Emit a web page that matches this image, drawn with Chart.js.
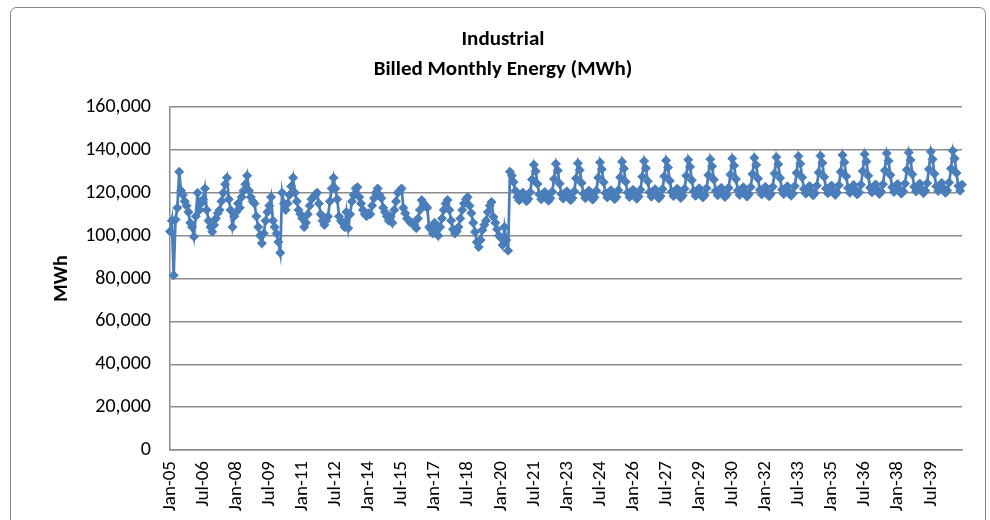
<!DOCTYPE html>
<html>
<head>
<meta charset="utf-8">
<script src="https://cdn.jsdelivr.net/npm/chart.js@4"></script>
<style>
  html, body { margin: 0; padding: 0; background: #fff; }
</style>
</head>
<body>
<canvas id="myChart" width="990" height="520"></canvas>
<script>
const ctx = document.getElementById('myChart').getContext('2d');
const FONT = 'Carlito, Calibri, Lato, sans-serif';

// months Jan-05 .. Dec-40
const monthNames = ['Jan', 'Feb', 'Mar', 'Apr', 'May', 'Jun', 'Jul', 'Aug', 'Sep', 'Oct', 'Nov', 'Dec'];
const firstYear = 2005;
const lastYear = 2040;

// labels Excel shows on the axis (every 18 months)
const tickLabels = ['Jan-05', 'Jul-06', 'Jan-08', 'Jul-09', 'Jan-11', 'Jul-12', 'Jan-14', 'Jul-15',
  'Jan-17', 'Jul-18', 'Jan-20', 'Jul-21', 'Jan-23', 'Jul-24', 'Jan-26', 'Jul-27', 'Jan-29',
  'Jul-30', 'Jan-32', 'Jul-33', 'Jan-35', 'Jul-36', 'Jan-38', 'Jul-39'];

// billed energy, Jan-05 .. May-20 (MWh)
const historyMWh = [
  102000, 107000, 81500, 107500, 113000, 129800, 121000, 119000, 116000, 114000, 111000, 106000,
  104000, 99500, 109000, 120000, 112000, 115000, 117000, 122000, 112000, 107000, 104000, 101800,
  105000, 108000, 110500, 112000, 116000, 120000, 124000, 127000, 117000, 112000, 104000, 109000,
  111000, 115000, 113000, 118000, 121000, 124000, 128000, 121000, 118000, 116000, 115000, 109000,
  104000, 100000, 96500, 101000, 107000, 111000, 114000, 118000, 107000, 104000, 101000, 97000,
  92000, 120000, 115000, 112000, 115000, 119000, 123000, 127000, 120000, 116000, 112000, 110000,
  108000, 104000, 106000, 110000, 114000, 117000, 118000, 119000, 120000, 115000, 110000, 107000,
  105000, 107000, 109000, 116000, 122000, 127000, 122000, 117000, 109000, 107000, 106000, 104000,
  111000, 103500, 110000, 116000, 119000, 122000, 122600, 118000, 115000, 112000, 110000, 109000,
  110500, 110000, 114000, 117500, 120000, 122000, 119000, 117500, 113000, 111000, 109000, 107000,
  109000, 106000, 112000, 116000, 120000, 121000, 122000, 113000, 110500, 108000, 107000, 106000,
  106000, 105000, 103500, 108000, 112000, 116600, 115000, 114000, 113000, 104000, 103000, 101000,
  106000, 104000, 100000, 104000, 108000, 112000, 115000, 116600, 112000, 107000, 103000, 101000,
  102000, 104000, 108000, 112000, 115000, 117000, 118000, 114000, 110500, 106000, 101700, 97000,
  94700, 98000, 102600, 105000, 107000, 111000, 114000, 115700, 108700, 106000, 103000, 100000,
  99000, 95600, 104000, 98000, 93000
];

// forecast, Jun-20 .. Dec-40 (MWh)
const forecastMWh = [
  129800, 128000, 125000, 121000, 118000, 116500, 119000,
  120100, 118200, 116000, 117100, 120300, 126200, 133100, 130000, 124100, 119200, 117000, 119600,
  120400, 118300, 116300, 117400, 120500, 126400, 133500, 130400, 124300, 119400, 117300, 119900,
  120700, 118600, 116500, 117600, 120700, 126700, 133800, 130600, 124600, 119600, 117500, 120100,
  121000, 118900, 116800, 117900, 121000, 127000, 134200, 131000, 124900, 119900, 117800, 120400,
  121200, 119100, 117000, 118100, 121200, 127200, 134500, 131300, 125100, 120100, 118000, 120600,
  121400, 119300, 117200, 118300, 121400, 127500, 134800, 131500, 125400, 120300, 118200, 120800,
  121700, 119500, 117400, 118500, 121700, 127700, 135100, 131800, 125600, 120500, 118400, 121000,
  121900, 119700, 117600, 118700, 121900, 128000, 135400, 132100, 125900, 120700, 118600, 121200,
  122100, 119900, 117800, 118900, 122100, 128200, 135700, 132400, 126100, 120900, 118800, 121500,
  122300, 120100, 118000, 119100, 122300, 128500, 136000, 132700, 126400, 121100, 119000, 121700,
  122600, 120300, 118200, 119300, 122600, 128700, 136300, 133000, 126600, 121300, 119200, 121900,
  122800, 120500, 118400, 119500, 122800, 129000, 136600, 133300, 126900, 121500, 119400, 122100,
  123000, 120700, 118600, 119700, 123100, 129300, 137000, 133600, 127200, 121800, 119600, 122300,
  123200, 120900, 118800, 119900, 123300, 129500, 137300, 133900, 127400, 122000, 119800, 122500,
  123400, 121100, 119000, 120100, 123500, 129800, 137600, 134200, 127700, 122200, 120000, 122700,
  123700, 121300, 119200, 120300, 123800, 130100, 138000, 134600, 128000, 122400, 120200, 123000,
  123900, 121500, 119400, 120500, 124000, 130400, 138400, 134900, 128300, 122600, 120400, 123200,
  124100, 121700, 119600, 120700, 124300, 130700, 138800, 135300, 128600, 122800, 120600, 123400,
  124300, 121900, 119800, 120900, 124500, 131000, 139200, 135600, 128900, 123000, 120800, 123600,
  124600, 122100, 120000, 121100, 124800, 131300, 139600, 136000, 129200, 123200, 121000, 123800
];

let categories = [];
for (let y = firstYear; y <= lastYear; y++) {
  for (const m of monthNames) {
    categories.push(m + '-' + String(y % 100).padStart(2, '0'));
  }
}
const energy = historyMWh.concat(forecastMWh);

// grey rounded frame round the whole chart, like the Excel chart object
const chartFrame = {
  id: 'chartFrame',
  beforeDraw(chart) {
    const c = chart.ctx;
    c.save();
    c.fillStyle = '#fff';
    c.fillRect(0, 0, chart.width, chart.height);
    c.strokeStyle = '#868686';
    c.lineWidth = 1;
    c.beginPath();
    c.roundRect(10.5, 7.5, 975, 540, 6);
    c.stroke();
    c.restore();
  }
};

const lineBlue = '#4A7EBB';
const gridGrey = '#8c8c8c';

new Chart(ctx, {
  type: 'line',
  data: {
    labels: categories,
    datasets: [
      {
        label: 'Industrial',
        data: energy,
        borderColor: lineBlue,
        backgroundColor: lineBlue,
        borderWidth: 2.75,
        tension: 0,
        pointStyle: 'rectRot',
        pointRadius: 4.5,
        pointBorderWidth: 1,
        pointBackgroundColor: lineBlue,
        pointBorderColor: lineBlue,
        clip: false,
      },
    ],
  },
  options: {
    responsive: false,
    animation: false,
    // left/right padding chosen so the title centres on the frame
    layout: { padding: { left: 44, right: 28, top: 0, bottom: 0 } },
    plugins: {
      legend: { display: false },
      tooltip: { enabled: false },
      title: {
        display: true,
        text: ['Industrial', 'Billed Monthly Energy (MWh)'],
        color: '#000',
        font: { family: FONT, size: 21, weight: 'bold', lineHeight: 1.43 },
        padding: { top: 25, bottom: 22 },
      },
    },
    scales: {
      x: {
        grid: { display: false, drawTicks: false },
        border: { display: true, color: gridGrey, width: 1.5 },
        ticks: {
          autoSkip: false,
          minRotation: 90,
          maxRotation: 90,
          padding: 11,
          color: '#000',
          font: { family: FONT, size: 19 },
          callback(value) {
            const lab = this.getLabelForValue(value);
            return tickLabels.includes(lab) ? lab : null;
          },
        },
        afterFit(scale) {
          scale.height = 70;
        },
      },
      y: {
        min: 0,
        max: 160000,
        grid: { color: gridGrey, lineWidth: 1.5, drawTicks: false },
        border: { display: true, color: gridGrey, width: 1.5 },
        ticks: {
          stepSize: 20000,
          padding: 19,
          color: '#000',
          font: { family: FONT, size: 20 },
          callback: (v) => v.toLocaleString('en-US'),
        },
        title: {
          display: true,
          text: 'MWh',
          color: '#000',
          font: { family: FONT, size: 20, weight: 'bold' },
          padding: { top: 6 },
        },
        afterFit(scale) {
          scale.width = 126;
        },
      },
    },
  },
  plugins: [chartFrame],
});
</script>
</body>
</html>
